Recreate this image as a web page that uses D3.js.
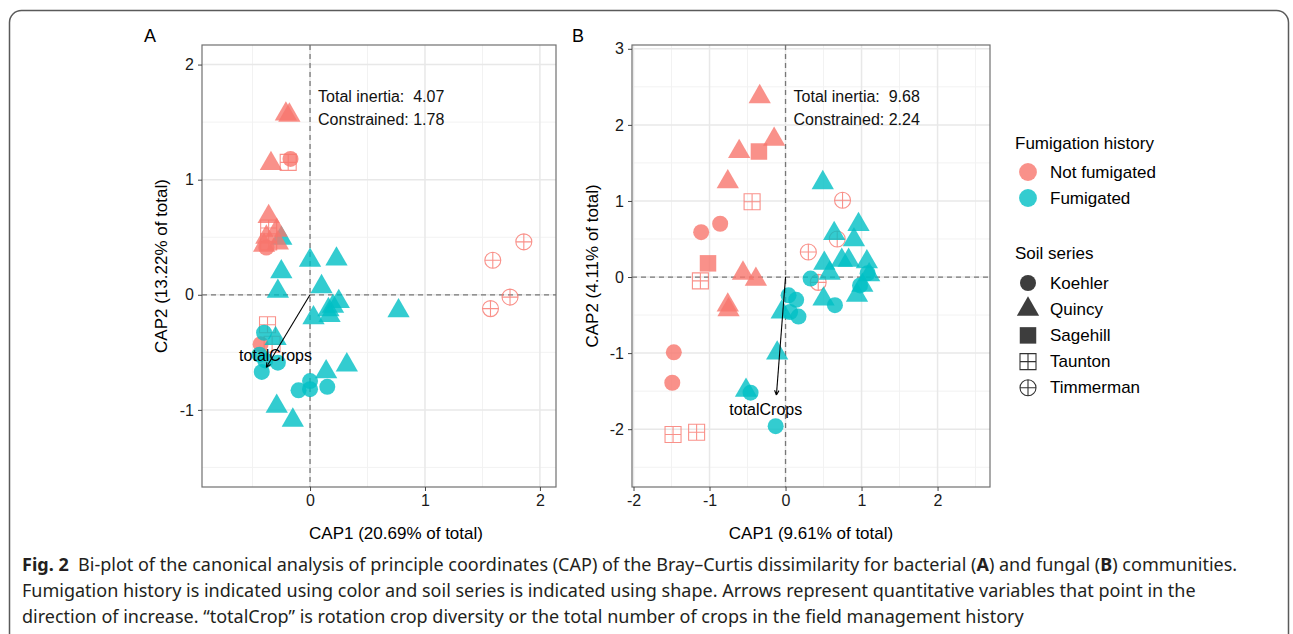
<!DOCTYPE html>
<html>
<head>
<meta charset="utf-8">
<script src="https://cdn.jsdelivr.net/npm/d3@7"></script>
<style>
  body { margin: 0; background: #fff; }
  svg { display: block; }
</style>
</head>
<body>
<div id="chart"></div>
<script>
// fumigation groups and soil series
const fumigation = ["Not fumigated", "Fumigated"];
const fumColors = ["#F8766D", "#00BFC4"];
const soilSeries = ["Koehler", "Quincy", "Sagehill", "Taunton", "Timmerman"];

// panel A (bacteria): [CAP1, CAP2, fumigation index, soil series]
const bacteriaPoints = [
  [-0.21, 1.57, 0, "Quincy"], [-0.18, 1.56, 0, "Quincy"],
  [-0.34, 1.14, 0, "Quincy"], [-0.19, 1.15, 0, "Taunton"], [-0.17, 1.18, 0, "Koehler"],
  [-0.25, 0.49, 1, "Quincy"],
  [-0.36, 0.68, 0, "Quincy"], [-0.29, 0.56, 0, "Quincy"], [-0.38, 0.50, 0, "Quincy"],
  [-0.28, 0.45, 0, "Quincy"], [-0.40, 0.43, 0, "Quincy"],
  [-0.36, 0.58, 0, "Taunton"], [-0.36, 0.46, 0, "Taunton"], [-0.38, 0.41, 0, "Koehler"],
  [-0.37, -0.26, 0, "Taunton"], [-0.33, -0.43, 0, "Taunton"], [-0.43, -0.43, 0, "Koehler"],
  [1.59, 0.30, 0, "Timmerman"], [1.86, 0.46, 0, "Timmerman"],
  [1.74, -0.02, 0, "Timmerman"], [1.57, -0.12, 0, "Timmerman"],
  [0.00, 0.30, 1, "Quincy"], [0.23, 0.31, 1, "Quincy"], [-0.25, 0.20, 1, "Quincy"],
  [-0.28, 0.03, 1, "Quincy"], [0.10, 0.07, 1, "Quincy"], [0.25, -0.06, 1, "Quincy"],
  [0.20, -0.10, 1, "Quincy"], [0.16, -0.13, 1, "Quincy"], [0.03, -0.20, 1, "Quincy"],
  [0.17, -0.18, 1, "Quincy"], [0.77, -0.14, 1, "Quincy"], [0.14, -0.67, 1, "Quincy"],
  [0.32, -0.61, 1, "Quincy"], [-0.29, -0.97, 1, "Quincy"], [-0.15, -1.09, 1, "Quincy"],
  [-0.30, -0.38, 1, "Quincy"],
  [-0.40, -0.33, 1, "Koehler"], [-0.44, -0.52, 1, "Koehler"], [-0.42, -0.67, 1, "Koehler"],
  [-0.28, -0.59, 1, "Koehler"], [-0.39, -0.57, 1, "Koehler"], [0.00, -0.75, 1, "Koehler"],
  [-0.10, -0.83, 1, "Koehler"], [0.00, -0.82, 1, "Koehler"], [0.15, -0.80, 1, "Koehler"]
];

// panel B (fungi): [CAP1, CAP2, fumigation index, soil series]
const fungiPoints = [
  [-0.34, 2.37, 0, "Quincy"], [-0.15, 1.81, 0, "Quincy"], [-0.61, 1.65, 0, "Quincy"],
  [-0.35, 1.65, 0, "Sagehill"], [-0.76, 1.25, 0, "Quincy"], [-0.44, 0.99, 0, "Taunton"],
  [-0.86, 0.70, 0, "Koehler"], [-1.11, 0.59, 0, "Koehler"], [-1.02, 0.18, 0, "Sagehill"],
  [-1.12, -0.05, 0, "Taunton"], [-0.56, 0.05, 0, "Quincy"], [-0.39, -0.03, 0, "Quincy"],
  [-0.76, -0.37, 0, "Quincy"], [-0.75, -0.43, 0, "Quincy"],
  [-1.47, -0.99, 0, "Koehler"], [-1.49, -1.39, 0, "Koehler"],
  [-1.48, -2.07, 0, "Taunton"], [-1.17, -2.04, 0, "Taunton"],
  [0.75, 1.01, 0, "Timmerman"], [0.68, 0.50, 0, "Timmerman"],
  [0.30, 0.33, 0, "Timmerman"], [0.43, -0.07, 0, "Timmerman"],
  [0.49, 1.24, 1, "Quincy"], [0.96, 0.69, 1, "Quincy"], [0.64, 0.57, 1, "Quincy"],
  [0.90, 0.49, 1, "Quincy"], [0.51, 0.18, 1, "Quincy"], [0.58, 0.05, 1, "Quincy"],
  [0.74, 0.22, 1, "Quincy"], [0.83, 0.22, 1, "Quincy"], [1.07, 0.20, 1, "Quincy"],
  [1.10, 0.03, 1, "Quincy"], [0.50, -0.29, 1, "Quincy"], [0.94, -0.24, 1, "Quincy"],
  [1.01, -0.11, 1, "Quincy"], [-0.05, -0.46, 1, "Quincy"], [-0.11, -1.00, 1, "Quincy"],
  [-0.52, -1.49, 1, "Quincy"],
  [0.33, -0.02, 1, "Koehler"], [0.04, -0.24, 1, "Koehler"], [0.14, -0.30, 1, "Koehler"],
  [0.17, -0.52, 1, "Koehler"], [0.06, -0.46, 1, "Koehler"], [0.65, -0.37, 1, "Koehler"],
  [0.98, -0.11, 1, "Koehler"], [1.08, 0.05, 1, "Koehler"],
  [-0.46, -1.52, 1, "Koehler"], [-0.13, -1.96, 1, "Koehler"]
];

// panel settings: axis titles, ticks, inertia text, arrow
const panelLetters = ["A", "B"];
const xTitles = ["CAP1 (20.69% of total)", "CAP1 (9.61% of total)"];
const yTitles = ["CAP2 (13.22% of total)", "CAP2 (4.11% of total)"];
const xTicksA = [0, 1, 2], yTicksA = [-1, 0, 1, 2];
const xTicksB = [-2, -1, 0, 1, 2], yTicksB = [-2, -1, 0, 1, 2, 3];
const inertia = [["Total inertia:  4.07", "Constrained: 1.78"], ["Total inertia:  9.68", "Constrained: 2.24"]];
const arrowEnd = [[-0.38, -0.63], [-0.12, -1.55]];
const arrowLabelPos = [[-0.30, -0.53], [-0.26, -1.74]];
const arrowLabel = "totalCrops";

const W = 1293, H = 634;
const svg = d3.select("#chart").append("svg").attr("width", W).attr("height", H);
const plotFont = "'Liberation Sans', Arial, sans-serif";

// outer frame
svg.append("rect")
  .attr("x", 9.5).attr("y", 10.5).attr("width", 1279).attr("height", 720)
  .attr("rx", 12).attr("fill", "none").attr("stroke", "#5a5a5a").attr("stroke-width", 1.5);

function shapePath(soil) {
  if (soil === "Koehler") return d3.symbol(d3.symbolCircle, 201)();
  if (soil === "Quincy") return d3.symbol(d3.symbolTriangle, 215)();
  if (soil === "Sagehill") return d3.symbol(d3.symbolSquare, 272)();
  if (soil === "Taunton") return "M-8,-8H8V8H-8Z M0,-8V8 M-8,0H8";
  return "M8,0A8,8 0 1,1 -8,0A8,8 0 1,1 8,0Z M0,-8V8 M-8,0H8";
}
const openShape = s => s === "Taunton" || s === "Timmerman";

function drawPanel(cfg) {
  const g = svg.append("g");
  const x = d3.scaleLinear().domain(cfg.xDomain).range([cfg.left, cfg.right]);
  const y = d3.scaleLinear().domain(cfg.yDomain).range([cfg.bottom, cfg.top]);

  // minor and major grid
  const minorX = d3.range(Math.ceil(cfg.xDomain[0] * 2) / 2, cfg.xDomain[1], 0.5).filter(v => !Number.isInteger(v));
  const minorY = d3.range(Math.ceil(cfg.yDomain[0] * 2) / 2, cfg.yDomain[1], 0.5).filter(v => !Number.isInteger(v));
  g.selectAll(".mx").data(minorX).enter().append("line")
    .attr("x1", d => x(d)).attr("x2", d => x(d)).attr("y1", cfg.top).attr("y2", cfg.bottom)
    .attr("stroke", "#f2f2f2").attr("stroke-width", 1);
  g.selectAll(".my").data(minorY).enter().append("line")
    .attr("y1", d => y(d)).attr("y2", d => y(d)).attr("x1", cfg.left).attr("x2", cfg.right)
    .attr("stroke", "#f2f2f2").attr("stroke-width", 1);
  g.selectAll(".gx").data(cfg.xTicks).enter().append("line")
    .attr("x1", d => x(d)).attr("x2", d => x(d)).attr("y1", cfg.top).attr("y2", cfg.bottom)
    .attr("stroke", "#e8e8e8").attr("stroke-width", 1.5);
  g.selectAll(".gy").data(cfg.yTicks).enter().append("line")
    .attr("y1", d => y(d)).attr("y2", d => y(d)).attr("x1", cfg.left).attr("x2", cfg.right)
    .attr("stroke", "#e8e8e8").attr("stroke-width", 1.5);

  // dashed zero lines
  g.append("line").attr("x1", x(0)).attr("x2", x(0)).attr("y1", cfg.top).attr("y2", cfg.bottom)
    .attr("stroke", "#777").attr("stroke-width", 1.3).attr("stroke-dasharray", "5,4");
  g.append("line").attr("y1", y(0)).attr("y2", y(0)).attr("x1", cfg.left).attr("x2", cfg.right)
    .attr("stroke", "#777").attr("stroke-width", 1.3).attr("stroke-dasharray", "5,4");

  // points
  g.selectAll(".pt").data(cfg.points).enter().append("path")
    .attr("transform", d => `translate(${x(d[0])},${y(d[1])})`)
    .attr("d", d => shapePath(d[3]))
    .attr("fill", d => openShape(d[3]) ? "none" : fumColors[d[2]])
    .attr("fill-opacity", 0.8)
    .attr("stroke", d => openShape(d[3]) ? fumColors[d[2]] : "none")
    .attr("stroke-opacity", 0.8)
    .attr("stroke-width", 1.1);

  // arrow
  const ae = cfg.arrowEnd;
  const ax = x(ae[0]), ay = y(ae[1]), ox = x(0), oy = y(0);
  const ang = Math.atan2(ay - oy, ax - ox);
  g.append("line").attr("x1", ox).attr("y1", oy).attr("x2", ax).attr("y2", ay)
    .attr("stroke", "#000").attr("stroke-width", 1.1);
  const hl = 5, hw = 0.45;
  g.append("path")
    .attr("d", `M${ax},${ay} L${ax - hl * Math.cos(ang - hw)},${ay - hl * Math.sin(ang - hw)} M${ax},${ay} L${ax - hl * Math.cos(ang + hw)},${ay - hl * Math.sin(ang + hw)}`)
    .attr("stroke", "#000").attr("stroke-width", 1.1).attr("fill", "none");
  g.append("text").attr("x", x(cfg.labelPos[0])).attr("y", y(cfg.labelPos[1]))
    .attr("text-anchor", "middle").attr("dominant-baseline", "central")
    .attr("font-family", plotFont).attr("font-size", 16).attr("fill", "#000")
    .text(arrowLabel);

  // inertia text
  cfg.inertia.forEach((t, i) => {
    g.append("text").attr("x", x(0) + 8).attr("y", cfg.top + 51 + i * 23)
      .attr("dominant-baseline", "central")
      .attr("font-family", plotFont).attr("font-size", 16).attr("fill", "#111")
      .style("white-space", "pre").text(t);
  });

  // panel border
  g.append("rect").attr("x", cfg.left).attr("y", cfg.top)
    .attr("width", cfg.right - cfg.left).attr("height", cfg.bottom - cfg.top)
    .attr("fill", "none").attr("stroke", "#707070").attr("stroke-width", 1.2);

  // axes
  const xAxis = g.append("g").attr("transform", `translate(0,${cfg.bottom})`)
    .call(d3.axisBottom(x).tickValues(cfg.xTicks).tickSize(4).tickPadding(4).tickFormat(d3.format("d")));
  const yAxis = g.append("g").attr("transform", `translate(${cfg.left},0)`)
    .call(d3.axisLeft(y).tickValues(cfg.yTicks).tickSize(4).tickPadding(4).tickFormat(d3.format("d")));
  [xAxis, yAxis].forEach(a => {
    a.select(".domain").remove();
    a.selectAll(".tick line").attr("stroke", "#444");
    a.selectAll(".tick text").attr("font-family", plotFont).attr("font-size", 16).attr("fill", "#1a1a1a")
      .text(d => d < 0 ? "-" + Math.abs(d) : d);
  });

  // titles
  g.append("text").attr("x", cfg.xTitleX).attr("y", 533)
    .attr("text-anchor", "middle").attr("dominant-baseline", "central")
    .attr("font-family", plotFont).attr("font-size", 17).attr("fill", "#000").text(cfg.xTitle);
  g.append("text").attr("transform", `translate(${cfg.yTitleX},${(cfg.top + cfg.bottom) / 2}) rotate(-90)`)
    .attr("text-anchor", "middle").attr("dominant-baseline", "central")
    .attr("font-family", plotFont).attr("font-size", 17).attr("fill", "#000").text(cfg.yTitle);
  g.append("text").attr("x", cfg.letterX).attr("y", 36)
    .attr("text-anchor", "middle").attr("dominant-baseline", "central")
    .attr("font-family", plotFont).attr("font-size", 18).attr("fill", "#000").text(cfg.letter);
}

drawPanel({
  left: 202, right: 556, top: 45, bottom: 487,
  xDomain: [-0.94, 2.14], yDomain: [-1.67, 2.17],
  xTicks: xTicksA, yTicks: yTicksA, points: bacteriaPoints,
  arrowEnd: arrowEnd[0], labelPos: arrowLabelPos[0], inertia: inertia[0],
  xTitle: xTitles[0], xTitleX: 396, yTitle: yTitles[0], yTitleX: 161, letter: panelLetters[0], letterX: 150
});
drawPanel({
  left: 632, right: 990, top: 45, bottom: 487,
  xDomain: [-2.02, 2.69], yDomain: [-2.76, 3.05],
  xTicks: xTicksB, yTicks: yTicksB, points: fungiPoints,
  arrowEnd: arrowEnd[1], labelPos: arrowLabelPos[1], inertia: inertia[1],
  xTitle: xTitles[1], xTitleX: 811, yTitle: yTitles[1], yTitleX: 592, letter: panelLetters[1], letterX: 578
});

// legend
const leg = svg.append("g").attr("font-family", plotFont);
leg.append("text").attr("x", 1015).attr("y", 143).attr("dominant-baseline", "central")
  .attr("font-size", 17).attr("fill", "#000").text("Fumigation history");
fumigation.forEach((f, i) => {
  leg.append("path").attr("transform", `translate(1028,${172 + i * 26})`)
    .attr("d", d3.symbol(d3.symbolCircle, 250)()).attr("fill", fumColors[i]).attr("fill-opacity", 0.8);
  leg.append("text").attr("x", 1050).attr("y", 172 + i * 26).attr("dominant-baseline", "central")
    .attr("font-size", 17).attr("fill", "#000").text(f);
});
leg.append("text").attr("x", 1015).attr("y", 253).attr("dominant-baseline", "central")
  .attr("font-size", 17).attr("fill", "#000").text("Soil series");
soilSeries.forEach((s, i) => {
  const cy = 283 + i * 26.2;
  leg.append("path").attr("transform", `translate(1028,${cy})`)
    .attr("d", shapePath(s))
    .attr("fill", openShape(s) ? "none" : "#333").attr("fill-opacity", 0.95)
    .attr("stroke", openShape(s) ? "#333" : "none").attr("stroke-width", 1.1);
  leg.append("text").attr("x", 1050).attr("y", cy).attr("dominant-baseline", "central")
    .attr("font-size", 17).attr("fill", "#000").text(s);
});

// caption
const capFont = "'Noto Sans', 'Open Sans', sans-serif";
const captionLines = [
  [["Fig. 2", true], ["  Bi-plot of the canonical analysis of principle coordinates (CAP) of the Bray\u2013Curtis dissimilarity for bacterial (", false], ["A", true], [") and fungal (", false], ["B", true], [") communities.", false]],
  [["Fumigation history is indicated using color and soil series is indicated using shape. Arrows represent quantitative variables that point in the", false]],
  [["direction of increase. \u201ctotalCrop\u201d is rotation crop diversity or the total number of crops in the field management history", false]]
];
captionLines.forEach((line, i) => {
  const t = svg.append("text").attr("x", 22).attr("y", 571 + i * 26)
    .attr("font-family", capFont).attr("font-size", 18).attr("fill", "#231f20")
    .style("white-space", "pre");
  line.forEach(([s, b]) => t.append("tspan").attr("font-weight", b ? 700 : 400).text(s));
});
</script>
</body>
</html>
